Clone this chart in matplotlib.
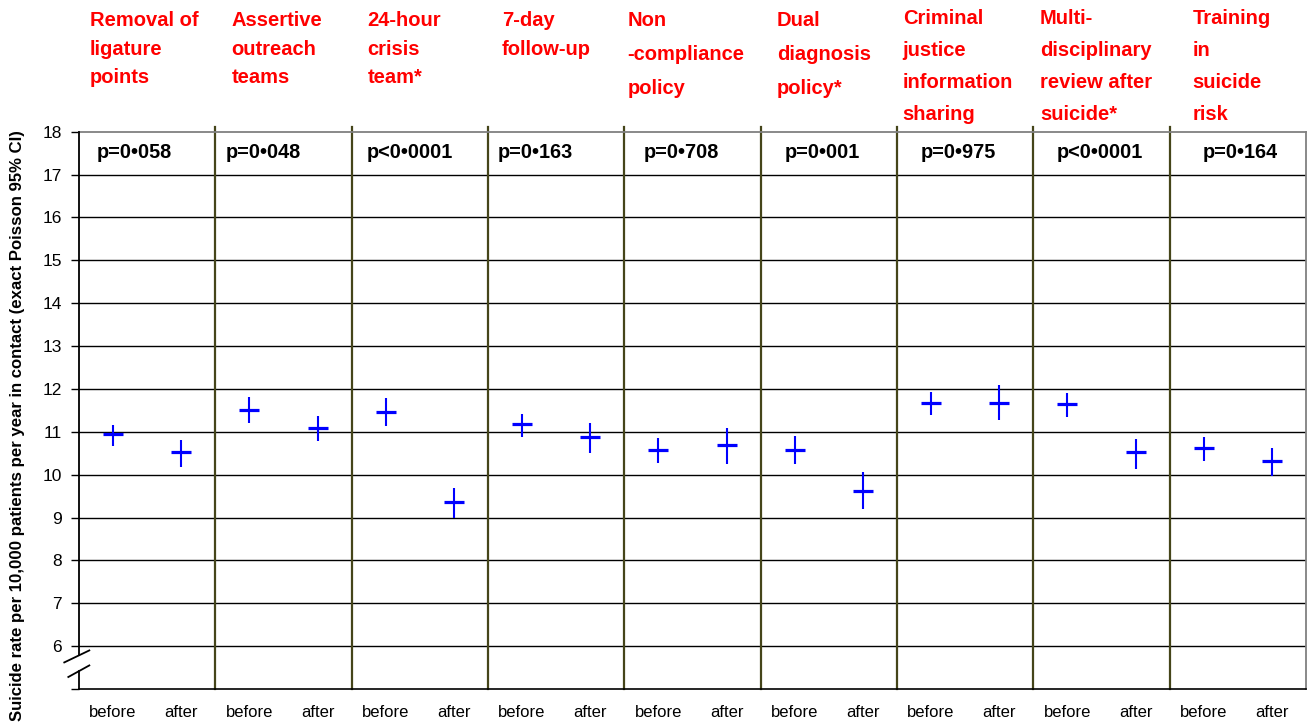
import matplotlib
matplotlib.use("Agg")
import matplotlib.pyplot as plt
import matplotlib.transforms as mtransforms
from matplotlib.lines import Line2D

plt.rcParams["font.family"] = ["Liberation Sans", "DejaVu Sans"]

# Interventions (panel headings)
interventions = [
    "Removal of\nligature\npoints",
    "Assertive\noutreach\nteams",
    "24-hour\ncrisis\nteam*",
    "7-day\nfollow-up",
    "Non\n-compliance\npolicy",
    "Dual\ndiagnosis\npolicy*",
    "Criminal\njustice\ninformation\nsharing",
    "Multi-\ndisciplinary\nreview after\nsuicide*",
    "Training\nin\nsuicide\nrisk",
]
p_values = ["p=0•058", "p=0•048", "p<0•0001", "p=0•163", "p=0•708",
            "p=0•001", "p=0•975", "p<0•0001", "p=0•164"]
periods = ["before", "after"]

# Suicide rate per 10,000 patients per year, with exact Poisson 95% CI
rate_before = [10.95, 11.51, 11.47, 11.19, 10.58, 10.58, 11.68, 11.65, 10.62]
low_before = [10.66, 11.20, 11.14, 10.89, 10.28, 10.25, 11.38, 11.34, 10.32]
high_before = [11.16, 11.80, 11.79, 11.42, 10.85, 10.91, 11.93, 11.90, 10.88]
rate_after = [10.52, 11.08, 9.36, 10.87, 10.69, 9.63, 11.68, 10.52, 10.31]
low_after = [10.18, 10.78, 8.99, 10.50, 10.25, 9.19, 11.28, 10.14, 9.96]
high_after = [10.81, 11.37, 9.69, 11.20, 11.09, 10.06, 12.08, 10.84, 10.63]

y_ticks = [6, 7, 8, 9, 10, 11, 12, 13, 14, 15, 16, 17, 18]

W, H = 1311, 723
fig = plt.figure(figsize=(W / 100, H / 100), dpi=100)
ax = fig.add_axes([79 / W, 1 - 689 / H, (1306 - 79) / W, (689 - 131.7) / H])

n = len(interventions)
ax.set_xlim(0, 2 * n)
ax.set_ylim(5, 18)

# horizontal rules at each unit
for v in y_ticks[:-1]:
    ax.axhline(v, color="black", lw=1.0, zorder=1)

# panel separators
for i in range(1, n):
    ax.plot([2 * i, 2 * i], [5, 18.12], color="#45451a", lw=1.6,
            clip_on=False, zorder=2)

# estimates with confidence intervals
xb = [2 * i + 0.5 for i in range(n)]
xa = [2 * i + 1.5 for i in range(n)]
for xs, r, lo, hi in [(xb, rate_before, low_before, high_before),
                      (xa, rate_after, low_after, high_after)]:
    yerr = [[ri - li for ri, li in zip(r, lo)], [hi_ - ri for ri, hi_ in zip(r, hi)]]
    ax.errorbar(xs, r, yerr=yerr, fmt="_", ms=14.5, mew=2.3, elinewidth=1.5,
                color="#0000ff", capsize=0, zorder=3)

# spines
ax.spines["top"].set_color("#808080")
ax.spines["top"].set_linewidth(1.3)
ax.spines["right"].set_color("#808080")
ax.spines["right"].set_linewidth(1.3)
ax.spines["bottom"].set_color("black")
ax.spines["bottom"].set_linewidth(1.2)
ax.spines["left"].set_visible(False)

# left axis drawn with a break between 5 and 6
ax.plot([0, 0], [5, 5.42], color="black", lw=1.3, clip_on=False, zorder=4)
ax.plot([0, 0], [5.79, 18], color="black", lw=1.3, clip_on=False, zorder=4)
bt = mtransforms.blended_transform_factory(ax.transAxes, ax.transData)
ax.add_line(Line2D([-0.012, 0.0084], [5.62, 5.90], color="black", lw=1.3,
                   transform=bt, clip_on=False))
ax.add_line(Line2D([-0.0087, 0.0084], [5.28, 5.55], color="black", lw=1.3,
                   transform=bt, clip_on=False))

# y ticks
ax.set_yticks([5] + y_ticks)
ax.set_yticklabels([""] + [str(v) for v in y_ticks], fontsize=12.5)
ax.tick_params(axis="y", direction="out", length=5.8, width=1.0, pad=6.5,
               colors="black")
ax.set_xticks([])

# before / after labels
xt = mtransforms.blended_transform_factory(ax.transData, fig.transFigure)
for i in range(n):
    for x, lab in zip([2 * i + 0.5, 2 * i + 1.5], periods):
        ax.text(x, 1 - 717.3 / H, lab, transform=xt, ha="center",
                va="baseline", fontsize=12, color="black")

# p-values in the top row
p_x = [0.805, 2.704, 4.856, 6.70, 8.834, 10.90, 12.90, 14.97, 17.04]
for x, p in zip(p_x, p_values):
    ax.text(x, 1 - 158 / H, p, transform=xt, ha="center", va="baseline",
            fontsize=14.3, fontweight="bold", color="black")

# panel headings, red, one line at a time
head_offset_px = [11, 16.4, 15.6, 14, 3, 16, 5.7, 6.7, 22.6]
head_spacing_px = [28.6, 28.6, 28.6, 28.6, 34, 34, 32, 32, 32]
first_base_px = [26, 26, 26, 26, 25.7, 25.7, 24.5, 24.5, 24.5]
px_per_unit = (1306 - 79) / (2 * n)
for i, title in enumerate(interventions):
    x = 2 * i + head_offset_px[i] / px_per_unit
    for j, line in enumerate(title.split("\n")):
        yb = first_base_px[i] + j * head_spacing_px[i]
        ax.text(x, 1 - yb / H, line, transform=xt, ha="left",
                va="baseline", fontsize=14.5, fontweight="bold",
                color="#ff0000")

fig.text(18 / W, 1 - 426 / H,
         "Suicide rate per 10,000 patients per year in contact (exact Poisson 95% CI)",
         rotation=90, ha="center", va="center", fontsize=12.1,
         fontweight="bold", color="black")

fig.savefig("out.png", dpi=100, facecolor="white")
